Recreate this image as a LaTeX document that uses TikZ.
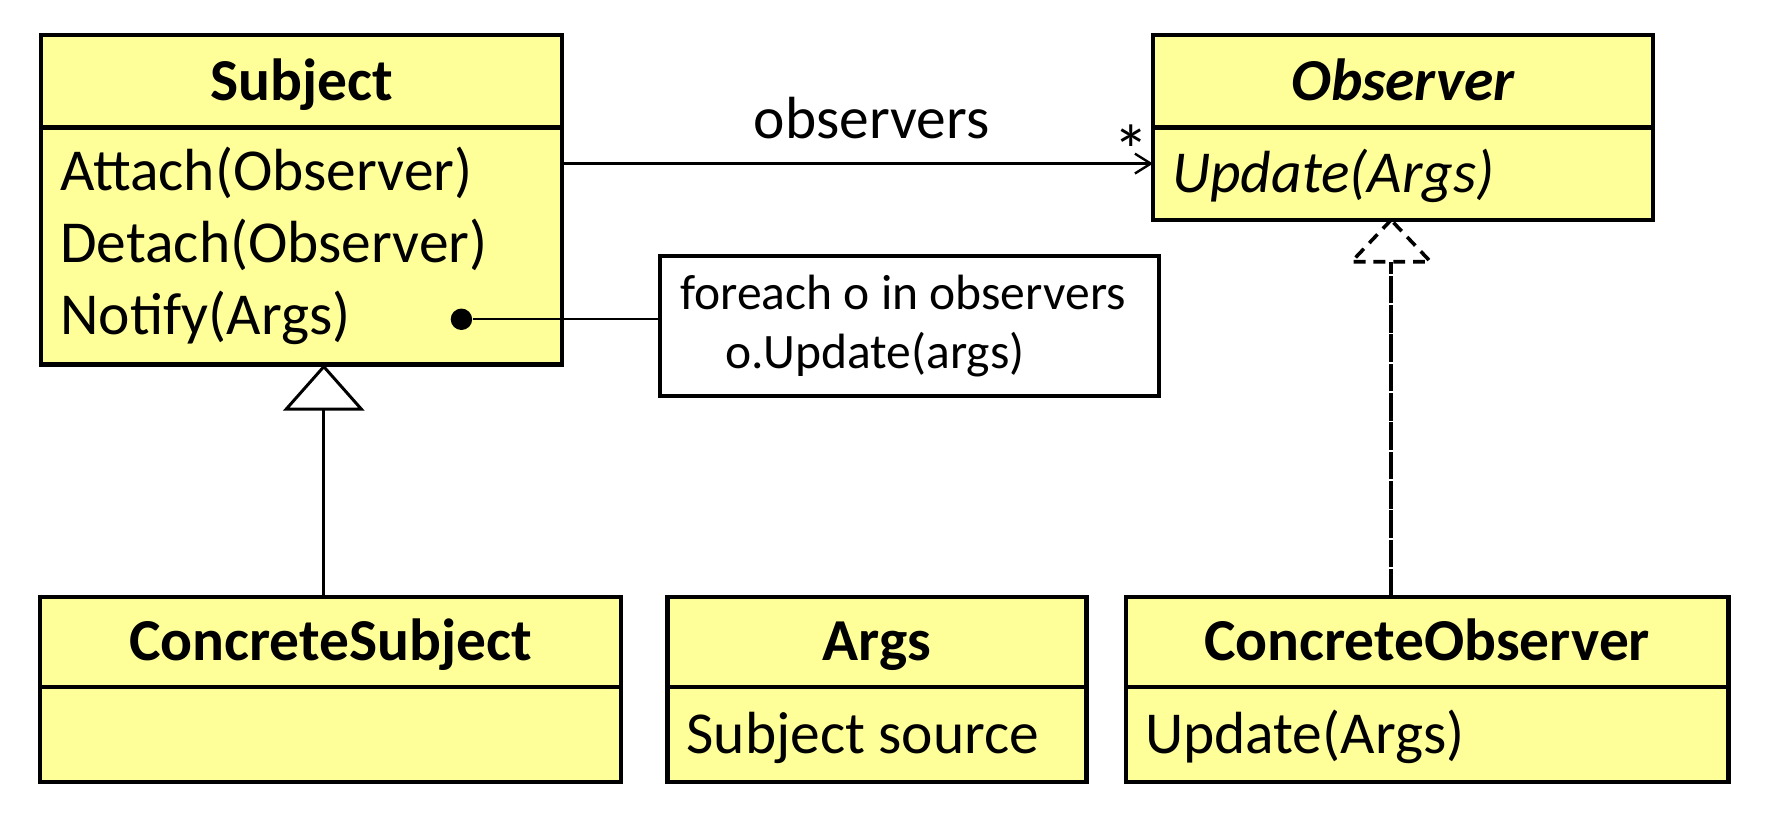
\documentclass[tikz,border=0pt]{standalone}
\usepackage{fontspec}
\setmainfont{Carlito}
\usepackage{xcolor}
\usetikzlibrary{arrows.meta}
\usetikzlibrary{calc}
\definecolor{classfill}{RGB}{255,255,153}
\newcommand{\umlfont}{\fontsize{15}{18.2}\selectfont}
\newcommand{\notefont}{\fontsize{12.5}{15.1}\selectfont}

\begin{document}
\begin{tikzpicture}[
		classhead/.style={draw, line width=1.1pt, fill=classfill, inner sep=0pt, outer sep=0pt, anchor=north west, text height=11pt, text depth=1.5pt, font=\umlfont\bfseries},
		classbody/.style={draw, line width=1.1pt, fill=classfill, inner xsep=0.17cm, inner ysep=0pt, outer sep=0pt, anchor=north west, align=left, font=\umlfont, fontspace},
		oneline/.style={text height=11pt, text depth=1.5pt},
		fontspace/.style={execute at begin node={\spaceskip=0pt\xspaceskip=0pt\relax}},
		assoc/.style={line width=0.6pt, -{Straight Barb[length=4pt, width=5pt]}},
		inherit/.style={line width=0.75pt, -{Triangle[open, length=0.41cm, width=0.72cm]}},
		realize/.style={line width=0.9pt, dash pattern=on 3pt off 2pt},
		realizeline/.style={line width=0.9pt, dash pattern=on 7pt off 0.4pt},
		notelink/.style={line width=0.4pt}
	]
		\useasboundingbox (0,0) rectangle (15.68,-7.31);

		% abstract classes
		\node[classhead, minimum width=4.615cm, minimum height=0.82cm] (subject) at (0.365,-0.31) {Subject};
		\node[classbody, text width=4.275cm, minimum height=2.10cm] (subjectops) at (subject.south west) {Attach(Observer)\\Detach(Observer)\\Notify(Args)};
		\node[classhead, minimum width=4.43cm, minimum height=0.82cm, font=\umlfont\bfseries\itshape] (observer) at (10.22,-0.31) {Observer};
		\node[classbody, oneline, text width=4.09cm, minimum height=0.82cm, font=\umlfont\itshape] (observerops) at (observer.south west) {Update(Args)};

		% note
		\node[draw, line width=1pt, fill=white, inner xsep=0.18cm, inner ysep=0pt, outer sep=0pt, anchor=north west, align=left, text width=4.06cm, minimum height=1.24cm, font=\notefont, fontspace] (note) at (5.85,-2.27) {\mbox{foreach o in observers}\\\hspace*{0.4cm}o.Update(args)};
		\node[circle, fill=black, inner sep=0pt, minimum size=0.19cm] (dot) at (4.09,-2.83) {};
		\draw[notelink] (dot) -- (dot -| note.west);

		% concrete classes
		\foreach \name/\x/\w/\title/\body in {csubject/0.355/5.15/ConcreteSubject/, args/5.915/3.715/Args/Subject source, cobserver/9.98/5.34/ConcreteObserver/Update(Args)} {
			\pgfmathsetmacro{\tw}{\w-0.34}
			\node[classhead, minimum width=\w cm, minimum height=0.80cm] (\name) at (\x,-5.29) {\title};
			\node[classbody, oneline, text width=\tw cm, minimum height=0.84cm] (\name ops) at (\name.south west) {\body};
		}

		% association
		\coordinate (assocy) at (0,-1.45);
		\draw[assoc] (subjectops.east |- assocy) -- node[pos=0.524, anchor=base, yshift=0.22cm, font=\umlfont] {observers} (observerops.west |- assocy);
		\node[anchor=base, font=\fontsize{18}{20}\selectfont] (many) at (10.03,-1.555) {*};

		% generalization
		\draw[inherit] ($(csubject.north)+(-0.06,0)$) -- ($(subjectops.south -| csubject.north)+(-0.06,0)$);

		% realization
		\coordinate (realtip) at ($(observerops.south)+(-0.105,0)$);
		\draw[realize] (realtip) -- ++(-0.35,-0.37) -- ++(0.70,0) -- cycle;
		\draw[realizeline] (cobserver.north -| realtip) -- ($(realtip)+(0,-0.37)$);
	\end{tikzpicture}
\end{document}
